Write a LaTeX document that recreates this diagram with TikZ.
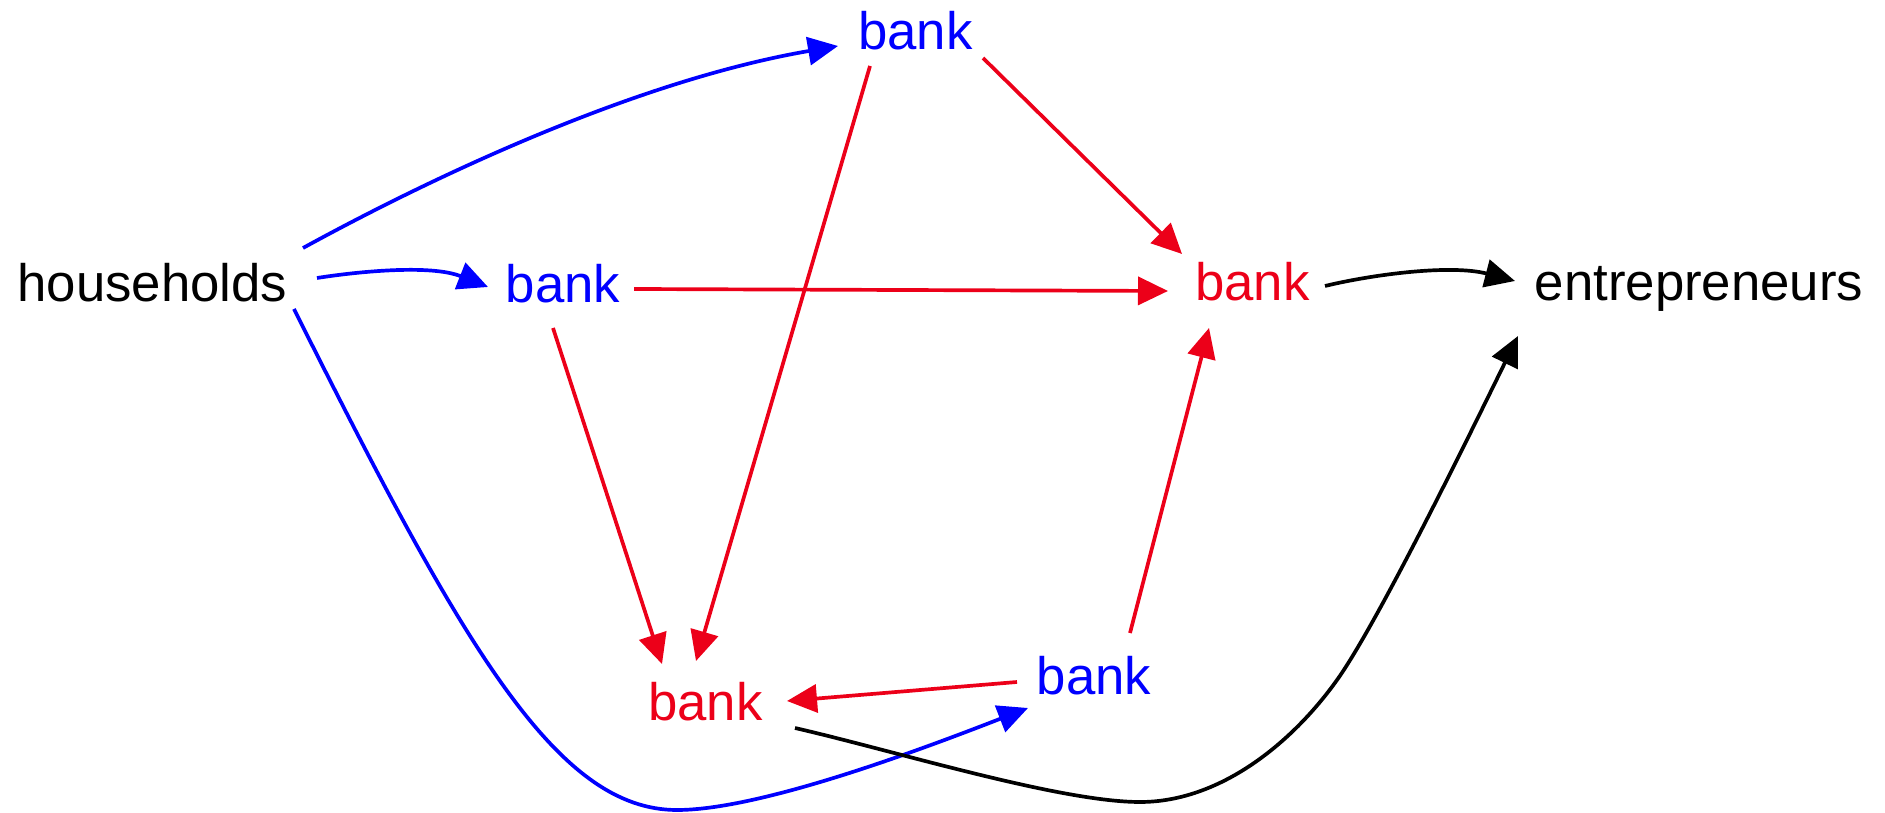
\documentclass[tikz,border=0pt]{standalone}
\usepackage{fontspec}
\setmainfont{Liberation Sans}
\usetikzlibrary{arrows.meta,calc}
\definecolor{myred}{RGB}{236,0,25}
\definecolor{myblue}{RGB}{0,0,255}
\begin{document}
\begin{tikzpicture}[x=0.01cm,y=-0.01cm,
  lbl/.style={inner sep=0pt, anchor=base, font=\fontsize{15}{18}\selectfont},
  conn/.style={line width=1.05pt, -{Triangle[length=0.3cm,width=0.28cm]}},
  bconn/.style={conn, draw=myblue, fill=myblue},
  rconn/.style={conn, draw=myred, fill=myred},
  kconn/.style={conn, draw=black, fill=black}]
\useasboundingbox (0,0) rectangle (1885,813);

% nodes
\node[lbl] (H) at (152.5,302) {households};
\node[lbl, text=myblue] (B1) at (563,303) {bank};
\node[lbl, text=myblue] (T) at (915.5,50) {bank};
\node[lbl, text=myred] (R) at (1252.5,301) {bank};
\node[lbl] (E) at (1699,301) {entrepreneurs};
\node[lbl, text=myred] (D) at (705.5,721) {bank};
\node[lbl, text=myblue] (C) at (1094,695) {bank};

% waypoints of long curves
\coordinate (hcLow) at (677,810);
\coordinate (deLow) at (1140,802);
\coordinate (deMid) at (1337,680);

% blue connectors from households
\draw[bconn, fill=none] ($(H.base)+(150.5,-54)$) .. controls +(137,-75) and +(-198,34) .. ($(T.base)+(-77.5,-4)$);
\draw[bconn, fill=none] ($(H.base)+(164.5,-24)$) .. controls +(38,-6) and +(-58,-23) .. ($(B1.base)+(-75,-16)$);
\draw[bconn, fill=none] ($(H.base)+(141.5,7)$) .. controls +(170,340) and +(-120,0) .. (hcLow)
   .. controls +(83,0) and +(-108,42) .. ($(C.base)+(-66,13)$);

% red connectors
\draw[rconn] ($(T.base)+(-45.5,16)$) -- ($(D.base)+(-9.5,-60)$);
\draw[rconn] ($(T.base)+(67.5,8)$) -- ($(R.base)+(-70.5,-47)$);
\draw[rconn] ($(B1.base)+(71,-14)$) -- ($(R.base)+(-84.5,-10)$);
\draw[rconn] ($(B1.base)+(-10,25)$) -- ($(D.base)+(-43.5,-57)$);
\draw[rconn] ($(C.base)+(36,-62)$) -- ($(R.base)+(-43.5,27)$);
\draw[rconn] ($(C.base)+(-77,-13)$) -- ($(D.base)+(81.5,-20)$);

% black connectors to entrepreneurs
\draw[kconn, fill=none] ($(R.base)+(72.5,-15)$) .. controls +(45,-11) and +(-65,-17) .. ($(E.base)+(-184,-20)$);
\draw[kconn, fill=none] ($(D.base)+(89.5,7)$) .. controls +(100,23) and +(-80,0) .. (deLow)
   .. controls +(80,0) and +(-45,63) .. (deMid)
   .. controls +(40,-56) and +(-50,102) .. ($(E.base)+(-181,35)$);
\end{tikzpicture}
\end{document}
